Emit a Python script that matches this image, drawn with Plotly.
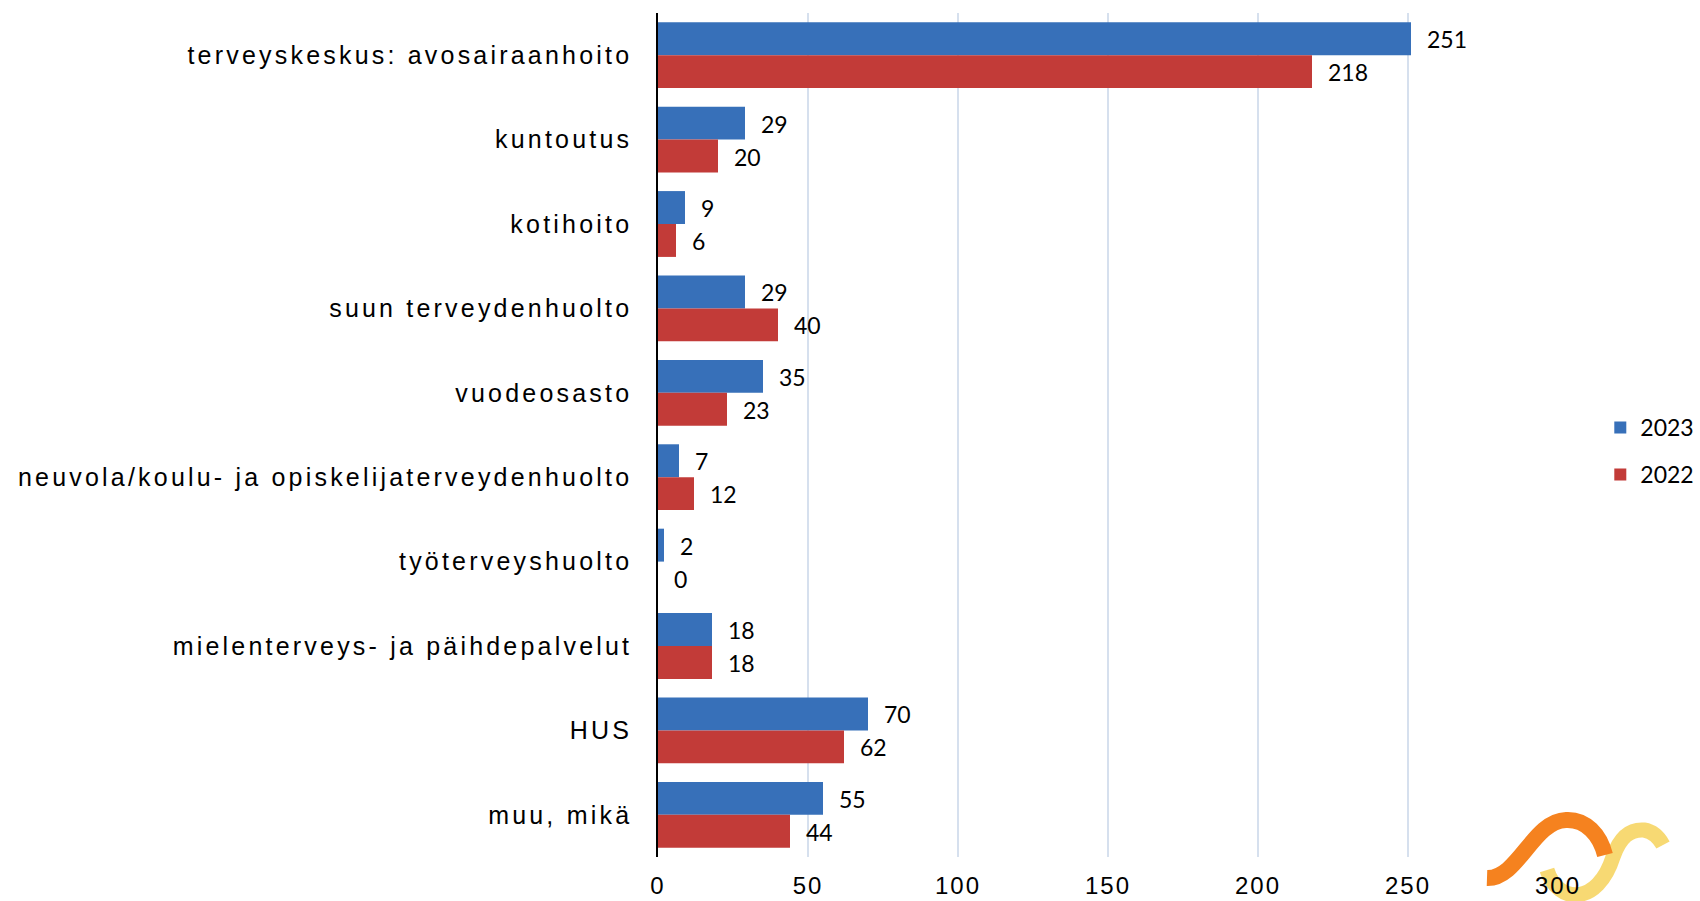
import plotly.graph_objects as go

categories = [
    "terveyskeskus: avosairaanhoito",
    "kuntoutus",
    "kotihoito",
    "suun terveydenhuolto",
    "vuodeosasto",
    "neuvola/koulu- ja opiskelijaterveydenhuolto",
    "työterveyshuolto",
    "mielenterveys- ja päihdepalvelut",
    "HUS",
    "muu, mikä",
]
values_2023 = [251, 29, 9, 29, 35, 7, 2, 18, 70, 55]
values_2022 = [218, 20, 6, 40, 23, 12, 0, 18, 62, 44]
series_names = ["2023", "2022"]
x_ticks = [0, 50, 100, 150, 200, 250, 300]

BLUE = "#3770b9"
RED = "#c23b38"

fig = go.Figure()
fig.add_trace(go.Bar(
    name=series_names[0], y=categories, x=values_2023, orientation="h",
    marker=dict(color=BLUE, line=dict(width=0)), legendgroup="a",
))
fig.add_trace(go.Bar(
    name=series_names[1], y=categories, x=values_2022, orientation="h",
    marker=dict(color=RED, line=dict(width=0)), legendgroup="b",
))

label_font = dict(family="Lato, Carlito, sans-serif", size=23, color="#000000")
annotations = []
for cat, v in zip(categories, values_2023):
    annotations.append(dict(x=v, y=cat, text=str(v), showarrow=False, xanchor="left",
                            xshift=14, yshift=16, font=label_font))
for cat, v in zip(categories, values_2022):
    annotations.append(dict(x=v, y=cat, text=str(v), showarrow=False, xanchor="left",
                            xshift=14, yshift=-17, font=label_font))

# decorative logo (orange + yellow swooshes) in the lower right corner
logo_shapes = [
    dict(type="path", xref="paper", yref="paper", xsizemode="pixel", ysizemode="pixel",
         xanchor=1.0, yanchor=0.0, layer="below",
         path="M -11,-13 C 0,-48 40,-48 55,0 C 62,20 72,28 86,27 Q 98,25 105,12",
         line=dict(color="rgba(246,210,90,0.85)", width=15), fillcolor="rgba(0,0,0,0)"),
    dict(type="path", xref="paper", yref="paper", xsizemode="pixel", ysizemode="pixel",
         xanchor=1.0, yanchor=0.0, layer="below",
         path="M -71,-21 C -40,-22 -25,36 8,37 C 28,38 42,22 47,2",
         line=dict(color="#f5821f", width=16), fillcolor="rgba(0,0,0,0)"),
]

fig.update_layout(
    width=1700, height=901,
    margin=dict(l=658, r=142, t=13, b=44, autoexpand=False),
    paper_bgcolor="white", plot_bgcolor="rgba(0,0,0,0)",
    barmode="group", bargap=0.22, bargroupgap=0,
    font=dict(family="Liberation Sans, Arial, sans-serif", color="#000000"),
    annotations=annotations,
    shapes=logo_shapes,
    legend=dict(x=1.047, y=0.481, xanchor="left", yanchor="middle",
                font=dict(family="Lato, Carlito, sans-serif", size=23, color="#000000"),
                tracegroupgap=14, traceorder="grouped", bgcolor="rgba(0,0,0,0)"),
    xaxis=dict(range=[0, 300], tickvals=x_ticks, ticktext=[str(t) for t in x_ticks],
               showgrid=True, gridcolor="#d6e0ee", gridwidth=1.5, zeroline=False,
               showline=False, ticks="", ticklabelstandoff=12,
               tickfont=dict(size=24, family="Liberation Sans, Arial, sans-serif")),
    yaxis=dict(autorange="reversed", showline=True, linecolor="#000000", linewidth=1.5,
               ticks="", ticklabelstandoff=19, showgrid=False,
               tickfont=dict(size=25, family="Liberation Sans, Arial, sans-serif")),
)

post = """
document.body.style.margin = '0';
document.body.style.padding = '0';
var gd = document.getElementsByClassName('plotly-graph-div')[0];
function spacing(){
  gd.querySelectorAll('.ytick text').forEach(function(t){t.style.letterSpacing='3.2px';});
  gd.querySelectorAll('.xtick text').forEach(function(t){t.style.letterSpacing='2px';});
}
spacing();
gd.on('plotly_afterplot', spacing);
"""
fig.write_html("out.html", post_script=post, config={"displayModeBar": False})
